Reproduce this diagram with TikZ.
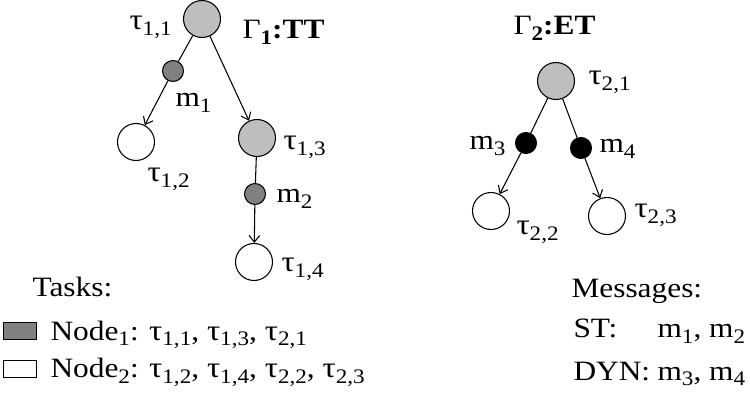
\documentclass[tikz,border=0pt]{standalone}
\usepackage{fontspec}
\setmainfont{Liberation Serif}[FakeStretch=1.12]
\usepackage{tikz}
\usepackage{xcolor}
\usetikzlibrary{positioning, arrows.meta}
\definecolor{taskgray}{RGB}{190, 190, 190}
\definecolor{msggray}{RGB}{128, 128, 128}

\newcommand{\lowsub}[1]{\raisebox{-4pt}{\fontsize{15.5}{16}\selectfont #1}}
\newcommand{\tauglyph}{{\fontsize{22}{25}\selectfont τ}}
\newcommand{\tsk}[1]{\tauglyph\lowsub{#1}}
\newcommand{\msg}[1]{m\lowsub{#1}}

\begin{document}
\begin{tikzpicture}[x=0.75pt, y=-0.75pt, line width=0.8pt,
    font=\fontsize{21}{25}\selectfont,
    >={Straight Barb[length=5pt, width=8pt]},
    task/.style={circle, draw, inner sep=0pt, minimum size=27.75pt},
    msgdot/.style={circle, draw, inner sep=0pt, minimum size=15.75pt},
    lbl/.style={inner sep=0pt, anchor=base west},
    keybox/.style={rectangle, draw, inner sep=0pt,
                   minimum width=25pt, minimum height=13pt}]

\useasboundingbox (0,0) rectangle (750,395);

% Gamma 1: time-triggered graph
\node[task, fill=taskgray] (t11) at (202,19) {};
\node[msgdot, fill=msggray] (m1) at (173,71) {};
\node[task, fill=white] (t12) at (136,142) {};
\node[task, fill=taskgray] (t13) at (257,138) {};
\node[msgdot, fill=msggray] (m2) at (255,194) {};
\node[task, fill=white] (t14) at (254,262) {};

\node[lbl] (t11-lbl) at (129,30) {\tsk{1,1}};
\node[lbl] (g1-lbl) at (242,39) {Γ\lowsub{\textbf{1}}\textbf{:TT}};
\node[lbl] (m1-lbl) at (175,107) {\msg{1}};
\node[lbl] (t12-lbl) at (147,182) {\tsk{1,2}};
\node[lbl] (t13-lbl) at (283,150) {\tsk{1,3}};
\node[lbl] (m2-lbl) at (276,203) {\msg{2}};
\node[lbl] (t14-lbl) at (281,272) {\tsk{1,4}};

\draw (t11) -- (m1);
\draw[->] (m1) -- (t12);
\draw[->] (t11) -- (t13);
\draw (t13) -- (m2);
\draw[->] (m2) -- (t14);

% Gamma 2: event-triggered graph
\node[task, fill=taskgray] (t21) at (556,81) {};
\node[msgdot, fill=black] (m3) at (526,143) {};
\node[msgdot, fill=black] (m4) at (581,148) {};
\node[task, fill=white] (t22) at (491,211) {};
\node[task, fill=white] (t23) at (607,216) {};

\node[lbl] (g2-lbl) at (513,35) {Γ\lowsub{\textbf{2}}\textbf{:ET}};
\node[lbl] (t21-lbl) at (588,85) {\tsk{2,1}};
\node[lbl] (m3-lbl) at (469,150) {\msg{3}};
\node[lbl] (m4-lbl) at (599,153) {\msg{4}};
\node[lbl] (t22-lbl) at (516,235) {\tsk{2,2}};
\node[lbl] (t23-lbl) at (634,218) {\tsk{2,3}};

\draw (t21) -- (m3);
\draw[->] (m3) -- (t22);
\draw (t21) -- (m4);
\draw[->] (m4) -- (t23);

% Legend: tasks
\node[lbl] (tasks) at (32,297) {Tasks:};
\node[keybox, fill=msggray] (node1key) at (20,331) {};
\node[keybox, fill=white] (node2key) at (20,369) {};
\node[lbl] (node1) at (50,340) {Node\lowsub{1}: \tsk{1,1}, \tsk{1,3}, \tsk{2,1}};
\node[lbl] (node2) at (50,378) {Node\lowsub{2}: \tsk{1,2}, \tsk{1,4}, \tsk{2,2}, \tsk{2,3}};

% Legend: messages
\node[lbl] (messages) at (571,298) {Messages:};
\node[lbl] (st) at (573,338) {\makebox[63pt][l]{ST:}\msg{1}, \msg{2}};
\node[lbl] (dyn) at (573,380) {\makebox[63pt][l]{DYN:}\msg{3}, \msg{4}};

\end{tikzpicture}
\end{document}
